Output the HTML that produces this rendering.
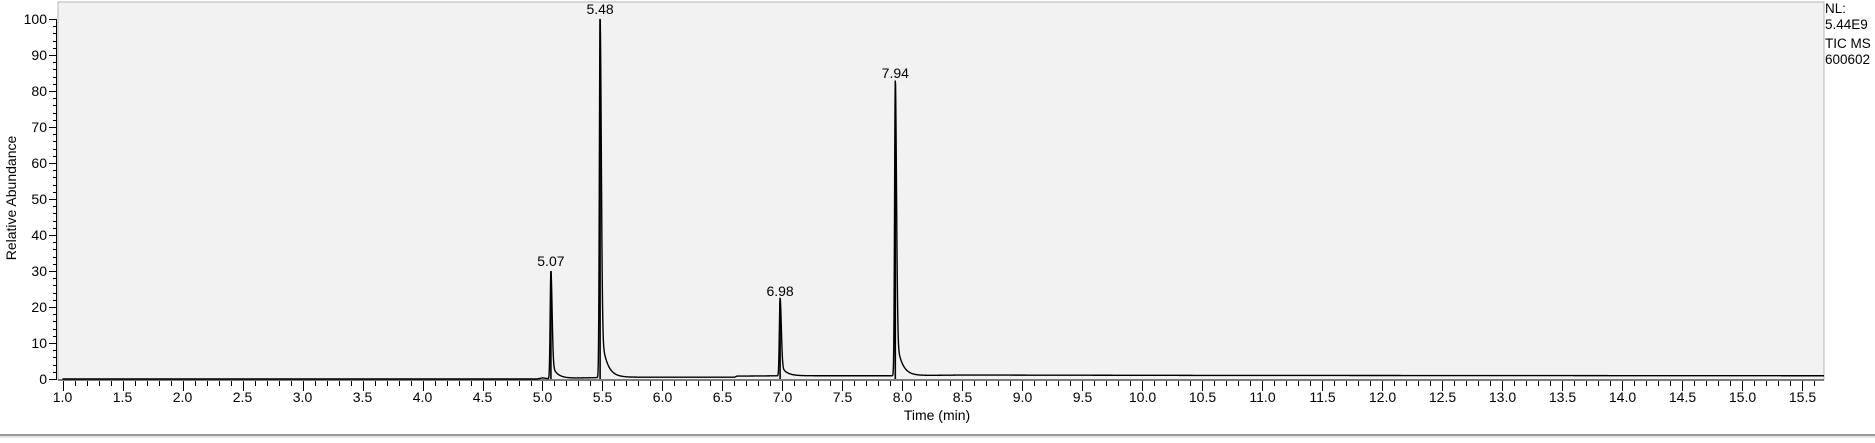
<!DOCTYPE html>
<html><head><meta charset="utf-8"><style>
html,body{margin:0;padding:0;background:#fff;}
body{width:1875px;height:438px;overflow:hidden;font-family:"Liberation Sans",Arial,sans-serif;}
svg text{font-family:"Liberation Sans",Arial,sans-serif;}
</style></head><body>
<svg id="chart" width="1875" height="438" xmlns="http://www.w3.org/2000/svg">
<rect x="58" y="2" width="1766" height="378" fill="#f2f2f2" stroke="#b4b4b4" stroke-width="1"/>
<g id="axes"></g>
<path id="trace" fill="none" stroke="#000" stroke-width="1.4"/>
<g id="labels"></g>
<text transform="translate(16,198) rotate(-90)" text-anchor="middle" font-size="14" fill="#000">Relative Abundance</text>
<text x="937" y="420" text-anchor="middle" font-size="14" fill="#000">Time (min)</text>
<text x="1825" y="13" font-size="13.5" fill="#000">NL:</text>
<text x="1825" y="29" font-size="13.5" fill="#000">5.44E9</text>
<text x="1825" y="48" font-size="13.5" fill="#000">TIC  MS</text>
<text x="1825" y="64" font-size="13.5" fill="#000">600602</text>
<line x1="0" y1="435" x2="1875" y2="435" stroke="#333" stroke-width="1"/>
<rect x="0" y="436" width="1875" height="2" fill="#e6e6e6"/>
</svg>
<script>
const peakTimes=[5.07,5.48,6.98,7.94];
const peakHeights=[30,100,21.7,82.2];
const peakLabels=["5.07","5.48","6.98","7.94"];
const baseTimes=[1.0,4.95,5.0,5.05,5.2,5.6,6.6,6.62,7.0,7.9,8.5,10.5,15.68];
const baseValues=[0,0,0.3,0.1,0.2,0.5,0.5,0.8,0.9,0.9,1.1,1.0,0.9];
const xTicks=[1.0,1.5,2.0,2.5,3.0,3.5,4.0,4.5,5.0,5.5,6.0,6.5,7.0,7.5,8.0,8.5,9.0,9.5,10.0,10.5,11.0,11.5,12.0,12.5,13.0,13.5,14.0,14.5,15.0,15.5];
const yTicks=[0,10,20,30,40,50,60,70,80,90,100];

const X0=62.5,PX=120,Y0=379,PY=3.6;
function sx(t){return X0+(t-1.0)*PX;}
function sy(v){return Y0-v*PY;}
const NS="http://www.w3.org/2000/svg";
const axes=document.getElementById('axes');
function mk(tag,attrs,parent){const e=document.createElementNS(NS,tag);for(const k in attrs)e.setAttribute(k,attrs[k]);parent.appendChild(e);return e;}
let xl=mk('line',{x1:58,y1:380,x2:1824,y2:380,stroke:'#555','stroke-width':1.5},axes);


for(let t=1.0;t<=15.68;t+=0.1){
  const x=Math.round(sx(t))+0.5;
  const major=Math.abs(t*2-Math.round(t*2))<1e-6;
  const l=mk('line',{x1:x,y1:381,x2:x,y2:major?391:386,stroke:'#000','stroke-width':1},axes);
  
  
}
xTicks.forEach(t=>{
  const tx=mk('text',{x:sx(t),y:402,'text-anchor':'middle','font-size':14,fill:'#000'},axes);
  tx.textContent=t.toFixed(1);
  
  
});
let yl=mk('line',{x1:56.5,y1:sy(100),x2:56.5,y2:380,stroke:'#000','stroke-width':1},axes);


for(let v=0;v<=100;v+=2){
  const y=Math.round(sy(v))+0.5;
  const major=v%10===0;
  const l=mk('line',{x1:major?49:53,y1:y,x2:56,y2:y,stroke:'#000','stroke-width':1},axes);
  
  
}
yTicks.forEach(v=>{
  const tx=mk('text',{x:47,y:sy(v)+5,'text-anchor':'end','font-size':14,fill:'#000'},axes);
  tx.textContent=String(v);
  
  
});
function base(t){
  for(let i=0;i<baseTimes.length-1;i++){
    if(t>=baseTimes[i]&&t<=baseTimes[i+1]){const f=(t-baseTimes[i])/(baseTimes[i+1]-baseTimes[i]);return baseValues[i]+f*(baseValues[i+1]-baseValues[i]);}
  }
  return baseValues[baseValues.length-1];
}
function val(t){
  let v=base(t);
  peakTimes.forEach((p,i)=>{
    const d=t-p,h=peakHeights[i];
    if(d<0)v+=h*Math.exp(-(d*d)/(2*0.006*0.006));
    else v+=h*(0.85*Math.exp(-(d*d)/(2*0.01*0.01))+0.15*Math.exp(-d/0.045));
  });
  return v;
}
let pts=[];
for(let px=sx(1.0);px<=1824;px+=0.25){
  const t=1.0+(px-X0)/PX;
  pts.push(px.toFixed(2)+','+sy(Math.min(val(t),100)).toFixed(2));
}
document.getElementById('trace').setAttribute('d','M'+pts.join('L'));
peakTimes.forEach((p,i)=>{
  const l=mk('line',{x1:sx(p),y1:sy(peakHeights[i]),x2:sx(p),y2:sy(0),stroke:'#000','stroke-width':1.6},axes);
  
  
  const tx=mk('text',{x:sx(p),y:sy(peakHeights[i])-5,'text-anchor':'middle','font-size':14,fill:'#000'},document.getElementById('labels'));
  tx.textContent=peakLabels[i];
  
  
});
</script>
</body></html>
